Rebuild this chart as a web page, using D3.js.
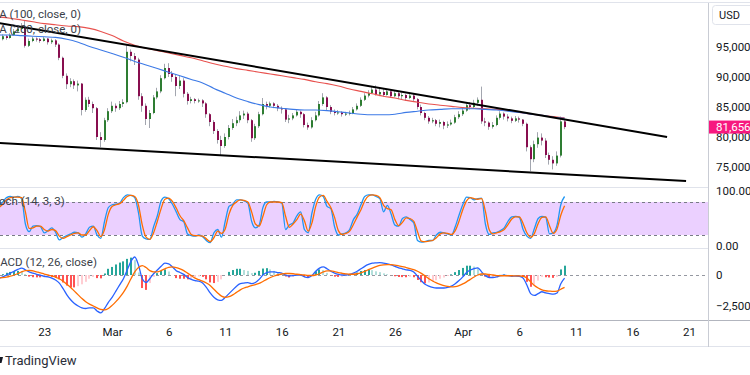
<!DOCTYPE html>
<html>
<head>
<meta charset="utf-8">
<script src="https://cdn.jsdelivr.net/npm/d3@7"></script>
<style>
  body { margin: 0; background: #fff; }
  svg { display: block; font-family: Roboto, "Noto Sans", sans-serif; }
</style>
</head>
<body>
<script>
// BTC/USD, 8h bars from 19 Feb 2025 00:00 UTC, prices in thousands
const closes = [
  96.3,96.8,96.5,97.0,97.6,98.0,98.3,95.2,96.0,96.4,
  96.3,96.0,96.4,95.8,96.1,95.4,93.2,90.2,88.8,89.3,
  88.6,88.9,84.5,86.2,85.5,84.8,80.0,79.5,82.8,84.3,
  85.2,84.8,85.5,85.8,94.2,93.5,92.9,86.8,85.2,83.0,
  84.0,86.6,87.6,89.8,91.5,90.5,90.0,88.5,89.4,87.2,
  86.0,86.3,86.0,86.1,85.6,83.8,82.5,81.0,79.5,78.5,
  80.0,81.5,82.3,82.8,83.6,83.9,82.8,79.8,81.8,83.8,
  85.5,85.2,85.6,85.2,84.8,84.6,82.9,83.1,83.6,84.2,
  83.8,82.0,81.6,82.8,83.6,85.5,86.6,85.0,84.2,84.0,
  84.1,83.8,83.9,84.0,84.6,85.2,86.2,86.9,87.3,87.9,
  87.1,87.5,87.0,87.6,86.8,87.3,86.8,87.0,86.5,86.9,
  86.3,85.0,84.0,83.2,82.6,82.8,82.2,82.5,81.9,82.1,
  82.4,83.3,83.8,84.4,85.3,85.0,85.7,86.2,82.6,82.4,
  81.7,82.0,83.2,83.9,83.4,83.1,82.7,83.1,82.9,82.2,
  78.3,76.3,78.8,79.9,79.4,77.0,76.2,75.6,76.9,82.6,
  81.656
];
const highs = [
  96.9,97.1,97.0,97.3,98.0,98.4,99.0,99.4,96.4,96.7,
  96.6,96.5,96.7,96.5,96.4,96.3,95.6,93.4,90.6,89.8,
  89.6,89.4,89.0,86.6,86.7,85.9,85.0,80.8,83.2,84.8,
  85.9,85.6,86.0,86.3,95.3,94.6,94.0,93.2,87.3,85.6,
  84.5,87.0,88.2,90.3,92.2,92.3,91.0,90.4,90.2,89.8,
  87.5,86.7,86.5,86.4,86.3,85.8,84.0,82.8,81.3,80.2,
  80.6,82.0,83.0,83.4,84.3,84.4,84.2,83.0,82.2,84.2,
  86.5,85.9,85.9,85.8,85.5,85.1,84.8,83.7,84.0,84.6,
  84.4,84.0,82.4,83.3,84.2,86.0,87.3,86.8,85.3,84.6,
  84.5,84.3,84.2,84.4,85.0,85.6,86.6,87.3,87.8,88.4,
  88.6,88.1,88.0,88.0,87.8,87.7,87.6,87.4,87.2,87.3,
  87.3,86.5,85.4,84.2,83.5,83.2,83.0,82.9,82.7,82.6,
  82.9,83.7,84.3,85.0,85.6,85.8,86.2,86.6,88.4,83.2,
  82.6,82.5,83.6,84.3,84.1,83.8,83.4,83.5,83.4,83.0,
  82.4,78.6,79.4,80.8,80.6,79.8,77.4,76.8,77.6,83.4,
  82.8
];
const lows = [
  95.8,96.1,96.2,96.4,96.9,97.4,97.8,94.9,95.0,95.8,
  95.9,95.7,95.9,95.4,95.5,95.0,92.8,89.8,88.0,88.3,
  88.0,87.6,83.6,84.2,85.0,84.0,79.5,78.3,79.2,82.5,
  84.0,84.2,84.5,85.0,85.6,92.6,92.0,86.2,84.2,82.0,
  81.5,83.8,86.3,87.3,89.6,90.0,89.2,86.8,88.0,86.6,
  85.4,85.6,85.6,85.7,85.0,83.2,81.8,80.5,78.9,77.0,
  78.2,79.6,81.2,81.8,82.4,83.0,82.3,79.2,79.5,81.5,
  83.6,84.6,84.9,84.8,84.3,83.9,82.5,82.3,82.8,83.4,
  83.2,81.6,81.2,81.4,82.6,83.4,85.2,84.5,83.8,83.6,
  83.7,83.4,83.5,83.6,83.8,84.4,85.0,86.0,86.6,87.2,
  86.9,86.8,86.7,86.9,86.5,86.6,86.3,86.3,86.0,86.3,
  85.9,84.6,83.6,82.8,82.2,82.3,81.8,81.6,81.3,81.5,
  81.9,82.2,83.0,83.5,84.2,84.6,84.8,85.2,82.2,81.8,
  81.2,81.4,81.8,82.9,82.9,82.6,82.3,82.5,82.4,81.8,
  77.6,74.3,75.8,78.2,78.6,76.5,75.4,74.6,75.2,76.6,
  81.3
];
const firstOpen = 96.5;

// moving averages, one value per day from 19 Feb
const maSlow = [
  100.0,99.8,99.5,99.2,98.9,98.7,98.5,98.4,98.1,97.6,
  96.9,96.0,95.3,94.8,94.4,94.0,93.6,93.2,92.7,92.2,
  91.8,91.4,91.1,90.8,90.5,90.2,89.9,89.6,89.2,88.9,
  88.5,88.0,87.6,87.2,86.8,86.5,86.1,85.8,85.5,85.3,
  85.1,84.9,84.8,84.7,84.6,84.4,84.1,83.8,83.6,83.4,
  83.2
];
const maFast = [
  97.0,97.0,96.9,96.8,96.7,96.6,96.3,95.8,95.1,94.5,
  93.9,93.3,92.6,92.0,91.4,90.8,90.2,89.6,89.0,88.1,
  87.3,86.5,85.9,85.4,85.0,84.8,84.6,84.5,84.5,84.4,
  84.2,84.0,83.8,83.7,83.7,83.8,84.1,84.3,84.5,84.6,
  84.7,84.7,84.7,84.6,84.5,84.3,84.1,83.8,83.6,83.3,
  83.1
];

// trend lines: [days after 19 Feb, price in thousands]
const upperTrend = [[0, 99.0], [59.06, 80.0]];
const lowerTrend = [[0, 79.0], [60.74, 72.67]];

const stochK = [
  72,80,88,90,89,90,86,40,26,36,
  37,35,24,28,33,25,11,16,19,22,
  25,24,16,22,34,36,20,14,45,70,
  75,76,78,88,93,92,88,60,18,13,
  12,35,55,82,89,86,76,62,48,44,
  22,19,18,20,17,10,6,24,30,16,
  45,72,76,84,84,82,78,45,33,38,
  70,80,80,81,80,78,30,38,42,55,
  62,30,24,60,85,93,90,72,68,35,
  20,22,24,30,48,58,75,90,93,93,
  90,86,62,74,58,38,36,50,53,48,
  42,10,7,8,10,10,20,25,24,22,
  20,35,56,75,89,88,84,86,87,40,
  21,24,25,28,33,45,53,54,52,30,
  18,14,32,50,54,52,22,24,38,75,
  90
];
const stochD = [
  70,76,84,88,89,89,88,62,32,33,
  36,36,30,27,30,28,18,14,17,20,
  23,24,20,20,28,35,28,17,30,58,
  72,75,77,83,90,92,90,74,38,16,
  12,24,45,68,85,87,81,69,55,46,
  33,21,19,19,18,13,8,15,27,23,
  31,58,74,80,84,83,80,62,40,36,
  54,75,80,80,80,79,54,34,40,48,
  58,46,27,42,72,89,92,81,70,52,
  28,21,23,27,39,53,66,82,91,93,
  92,88,74,68,66,48,37,43,51,50,
  45,26,9,8,9,10,15,22,24,23,
  21,28,45,66,82,88,86,85,86,63,
  30,22,24,26,30,39,49,53,53,41,
  24,16,23,41,52,53,37,23,31,56,
  73
];

const macdLine = [
  -250,-150,0,150,300,450,560,420,250,150,
  60,-20,-100,-150,-250,-400,-650,-1100,-1600,-2000,
  -2300,-2500,-2650,-2700,-2650,-2650,-2900,-3050,-2700,-2200,
  -1800,-1300,-800,-300,400,1100,1450,800,-300,-600,
  -300,100,400,700,950,900,650,350,200,50,
  -200,-350,-450,-500,-650,-1000,-1450,-1800,-2000,-2050,
  -1800,-1500,-1200,-900,-700,-650,-620,-700,-600,-350,
  0,200,250,250,200,150,0,-80,-50,0,
  0,-150,-200,-50,300,550,650,500,300,150,
  50,0,0,50,150,300,500,700,850,950,
  980,1000,950,900,820,700,580,500,420,380,
  250,-100,-450,-750,-900,-1000,-1050,-1050,-1050,-1000,
  -900,-700,-450,-150,200,400,520,580,250,-50,
  -200,-200,-150,-50,-20,-50,-100,-80,-100,-250,
  -800,-1500,-1650,-1500,-1350,-1450,-1500,-1550,-1450,-700,
  -250
];
const signalLine = [
  -240,-220,-180,-100,0,120,250,350,380,330,
  250,170,80,0,-80,-180,-300,-500,-750,-1000,
  -1300,-1600,-1900,-2150,-2350,-2500,-2650,-2780,-2820,-2700,
  -2450,-2150,-1800,-1400,-900,-300,250,600,750,600,
  350,250,250,350,500,620,650,600,500,350,
  150,-50,-250,-380,-500,-650,-850,-1150,-1450,-1700,
  -1800,-1750,-1600,-1400,-1200,-1050,-950,-850,-780,-680,
  -520,-350,-200,-80,20,80,120,120,100,60,
  30,0,-30,-40,0,100,250,330,330,280,
  200,140,90,60,60,100,180,300,430,560,
  680,770,820,840,830,800,740,670,600,520,
  430,300,130,-80,-300,-480,-630,-750,-850,-920,
  -950,-930,-850,-720,-550,-350,-160,0,80,80,
  40,0,-50,-60,-60,-60,-60,-70,-70,-100,
  -250,-550,-850,-1050,-1200,-1270,-1300,-1320,-1300,-1150,
  -1000
];

const priceTicks = [75000, 80000, 85000, 90000, 95000];
const timeTicks = ['2025-02-23','2025-03-01','2025-03-06','2025-03-11','2025-03-16','2025-03-21',
                   '2025-03-26','2025-04-01','2025-04-06','2025-04-11','2025-04-16','2025-04-21'];
const timeLabels = ['23','Mar','6','11','16','21','26','Apr','6','11','16','21'];

// layout
const SCREEN = { width: 750, height: 375, axisX: 709 };
const PANES = {
    main:  { top: 3,   bottom: 187 },
    stoch: { top: 188, bottom: 248 },
    macd:  { top: 249, bottom: 320 },
    time:  { top: 320, bottom: 347 }
};
const COLORS = {
    up: '#2e7d32', down: '#880e4f', wick: '#a3a6af',
    maSlow: '#e8524f', maFast: '#3d7ae6',
    k: '#2196f3', d: '#ff6d00', macd: '#2962ff', signal: '#ff6d00',
    text: '#131722', legend: '#3b3f4a', grid: '#e0e3eb', pink: '#f7197f'
};

const DAY = 24 * 3600 * 1000;
const START = Date.UTC(2025, 1, 19);
const barTime = i => new Date(START + i * DAY / 3);

const x = d3.scaleUtc()
    .domain([new Date(START), new Date(Date.UTC(2025, 3, 21))])
    .range([-1, 689]);
const yPrice = d3.scaleLinear().domain([75000, 95000]).range([167, 47]);
const yStoch = d3.scaleLinear().domain([0, 100]).range([246, 191]);
const yMacd = d3.scaleLinear().domain([-2500, 0]).range([306, 275]);

const svg = d3.select('body').append('svg')
    .attr('width', SCREEN.width)
    .attr('height', SCREEN.height);

svg.append('rect').attr('width', SCREEN.width).attr('height', SCREEN.height).attr('fill', '#fff');

const defs = svg.append('defs');
Object.entries(PANES).forEach(([name, p]) => {
    defs.append('clipPath').attr('id', 'clip-' + name)
        .append('rect').attr('x', 0).attr('y', p.top)
        .attr('width', SCREEN.axisX).attr('height', p.bottom - p.top);
});

// ---------- main pane ----------
const bars = closes.map((c, i) => {
    const o = i === 0 ? firstOpen : closes[i - 1];
    return {
        t: barTime(i),
        o: o * 1000, c: c * 1000,
        h: Math.max(highs[i], o, c) * 1000,
        l: Math.min(lows[i], o, c) * 1000
    };
});

const main = svg.append('g').attr('clip-path', 'url(#clip-main)');

const candle = main.selectAll('g.candle').data(bars).enter().append('g');
candle.append('line')
    .attr('x1', d => Math.round(x(d.t)) - 0.5)
    .attr('x2', d => Math.round(x(d.t)) - 0.5)
    .attr('y1', d => yPrice(d.h))
    .attr('y2', d => yPrice(d.l))
    .attr('stroke', COLORS.wick)
    .attr('stroke-width', 1);
candle.append('rect')
    .attr('x', d => Math.round(x(d.t)) - 1)
    .attr('width', 2)
    .attr('y', d => yPrice(Math.max(d.o, d.c)))
    .attr('height', d => Math.max(1, Math.abs(yPrice(d.o) - yPrice(d.c))))
    .attr('fill', d => d.c >= d.o ? COLORS.up : COLORS.down);

const maLine = d3.line()
    .x((d, i) => x(new Date(START + i * DAY)))
    .y(d => yPrice(d * 1000))
    .curve(d3.curveMonotoneX);

main.append('path').attr('d', maLine(maSlow))
    .attr('fill', 'none').attr('stroke', COLORS.maSlow).attr('stroke-width', 1.1);
main.append('path').attr('d', maLine(maFast))
    .attr('fill', 'none').attr('stroke', COLORS.maFast).attr('stroke-width', 1.1);

const trend = d3.line()
    .x(d => x(new Date(START + d[0] * DAY)))
    .y(d => yPrice(d[1] * 1000));
[upperTrend, lowerTrend].forEach(t => {
    main.append('path').attr('d', trend(t))
        .attr('fill', 'none').attr('stroke', '#000').attr('stroke-width', 2);
});

const legend = (txt, yPos) => svg.append('text')
    .attr('x', -11).attr('y', yPos)
    .attr('font-size', 11.5)
    .attr('fill', COLORS.legend)
    .text(txt);
legend('MA (100, close, 0)', 18);
legend('MA (200, close, 0)', 33);

// ---------- stochastic pane ----------
const stoch = svg.append('g').attr('clip-path', 'url(#clip-stoch)');
stoch.append('rect')
    .attr('x', 0).attr('width', SCREEN.axisX)
    .attr('y', yStoch(80)).attr('height', yStoch(20) - yStoch(80))
    .attr('fill', 'rgba(153, 21, 255, 0.2)');
[80, 20].forEach(v => {
    stoch.append('line')
        .attr('x1', 0).attr('x2', SCREEN.axisX)
        .attr('y1', Math.round(yStoch(v)) + 0.5).attr('y2', Math.round(yStoch(v)) + 0.5)
        .attr('stroke', '#787b86').attr('stroke-dasharray', '3,3');
});
const stochLine = d3.line()
    .x((d, i) => x(barTime(i)))
    .y(d => yStoch(d))
    .curve(d3.curveMonotoneX);
stoch.append('path').attr('d', stochLine(stochK))
    .attr('fill', 'none').attr('stroke', COLORS.k).attr('stroke-width', 1.3);
stoch.append('path').attr('d', stochLine(stochD))
    .attr('fill', 'none').attr('stroke', COLORS.d).attr('stroke-width', 1.3);

svg.append('text').attr('x', -11.5).attr('y', 205)
    .attr('font-size', 11.5).attr('fill', COLORS.legend)
    .text('Stoch (14, 3, 3)');

// ---------- MACD pane ----------
const macd = svg.append('g').attr('clip-path', 'url(#clip-macd)');
macd.append('line')
    .attr('x1', 0).attr('x2', SCREEN.axisX)
    .attr('y1', Math.round(yMacd(0)) + 0.5).attr('y2', Math.round(yMacd(0)) + 0.5)
    .attr('stroke', '#9598a1').attr('stroke-dasharray', '3,3');

const hist = macdLine.map((m, i) => m - signalLine[i]);
const histColor = (h, i) => {
    const prev = i > 0 ? hist[i - 1] : h;
    if (h >= 0) return h >= prev ? '#26a69a' : '#b2dfdb';
    return h <= prev ? '#ff5252' : '#ffcdd2';
};
macd.selectAll('rect.hist').data(hist).enter().append('rect')
    .attr('x', (d, i) => Math.round(x(barTime(i))) - 1)
    .attr('width', 2)
    .attr('y', d => Math.min(yMacd(d), yMacd(0)))
    .attr('height', d => Math.abs(yMacd(d) - yMacd(0)))
    .attr('fill', histColor);

const macdPath = d3.line()
    .x((d, i) => x(barTime(i)))
    .y(d => yMacd(d))
    .curve(d3.curveMonotoneX);
macd.append('path').attr('d', macdPath(macdLine))
    .attr('fill', 'none').attr('stroke', COLORS.macd).attr('stroke-width', 1.3);
macd.append('path').attr('d', macdPath(signalLine))
    .attr('fill', 'none').attr('stroke', COLORS.signal).attr('stroke-width', 1.3);

svg.append('text').attr('x', -10).attr('y', 266)
    .attr('font-size', 11.5).attr('fill', COLORS.legend)
    .text('MACD (12, 26, close)');

// ---------- frame ----------
const hline = (yy, x2, color) => svg.append('line')
    .attr('x1', 0).attr('x2', x2).attr('y1', yy).attr('y2', yy)
    .attr('stroke', color).attr('stroke-width', 1);
hline(2.5, SCREEN.width, COLORS.grid);
hline(187.5, SCREEN.axisX, COLORS.grid);
hline(248.5, SCREEN.axisX, COLORS.grid);
hline(320.5, SCREEN.width, '#b2b5be');
hline(346.5, SCREEN.width, COLORS.grid);
svg.append('line')
    .attr('x1', SCREEN.axisX - 0.5).attr('x2', SCREEN.axisX - 0.5)
    .attr('y1', 3).attr('y2', 347)
    .attr('stroke', '#c9ccd4');

// ---------- axes ----------
const styleAxis = g => {
    g.select('.domain').remove();
    g.selectAll('text').attr('font-size', 11.5).attr('fill', COLORS.text)
        .attr('font-family', 'Roboto, sans-serif');
};

svg.append('g').attr('transform', `translate(${SCREEN.axisX},0)`)
    .call(d3.axisRight(yPrice).tickValues(priceTicks).tickFormat(d3.format(',')).tickSize(0).tickPadding(7))
    .call(styleAxis);
svg.append('g').attr('transform', `translate(${SCREEN.axisX},0)`)
    .call(d3.axisRight(yStoch).tickValues([0, 100]).tickFormat(d3.format('.2f')).tickSize(0).tickPadding(7))
    .call(styleAxis);
svg.append('g').attr('transform', `translate(${SCREEN.axisX},0)`)
    .call(d3.axisRight(yMacd).tickValues([-2500, 0]).tickFormat(d3.format(',')).tickSize(0).tickPadding(7))
    .call(styleAxis);

const tickDates = timeTicks.map(s => new Date(s + 'T00:00:00Z'));
svg.append('g').attr('transform', `translate(0,${PANES.time.top})`)
    .call(d3.axisBottom(x).tickValues(tickDates)
        .tickFormat((d, i) => timeLabels[i]).tickSize(0).tickPadding(8))
    .call(styleAxis);

// USD badge
svg.append('rect')
    .attr('x', 712.5).attr('y', 5.5).attr('width', 45).attr('height', 19).attr('rx', 3)
    .attr('fill', '#fff').attr('stroke', COLORS.grid);
svg.append('text').attr('x', 719).attr('y', 15).attr('dy', '0.35em')
    .attr('font-size', 11).attr('fill', COLORS.text).text('USD');

// last price label
const lastPrice = closes[closes.length - 1] * 1000;
svg.append('rect')
    .attr('x', SCREEN.axisX).attr('y', yPrice(lastPrice) - 6.5)
    .attr('width', SCREEN.width - SCREEN.axisX).attr('height', 13)
    .attr('fill', COLORS.pink);
svg.append('text')
    .attr('x', SCREEN.axisX + 7).attr('y', yPrice(lastPrice)).attr('dy', '0.35em')
    .attr('font-size', 11.5).attr('fill', '#fff')
    .text(d3.format(',')(Math.round(lastPrice)));

// footer
svg.append('path').attr('d', 'M0,357 L3,357 L1.5,363 L0,363 Z').attr('fill', COLORS.text);
svg.append('text').attr('x', 5).attr('y', 365)
    .attr('font-size', 13).attr('fill', '#2a2e39')
    .text('TradingView');
</script>
</body>
</html>
